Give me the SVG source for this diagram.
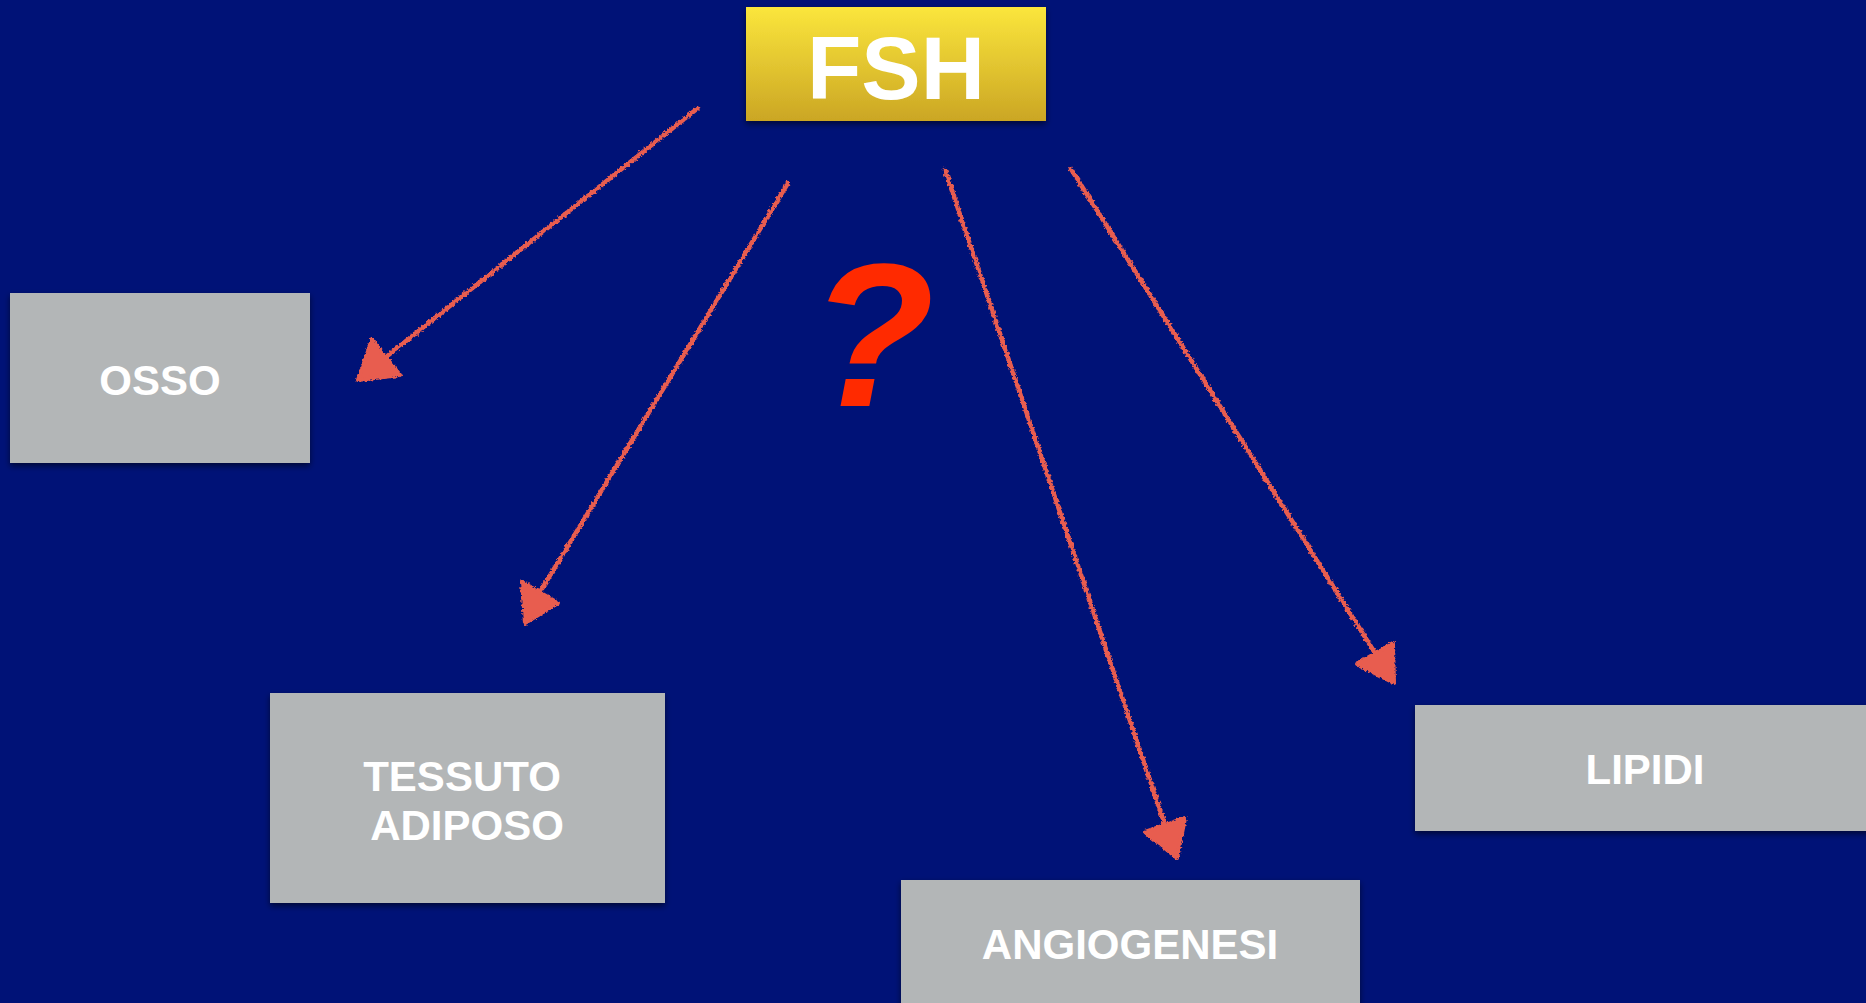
<svg xmlns="http://www.w3.org/2000/svg" width="1866" height="1003" viewBox="0 0 1866 1003">
<defs>
<linearGradient id="gold" x1="0" y1="0" x2="0" y2="1">
<stop offset="0" stop-color="#FBE63C"/>
<stop offset="1" stop-color="#CBA624"/>
</linearGradient>
<filter id="shadow" x="-10%" y="-10%" width="120%" height="130%">
<feDropShadow dx="0" dy="3" stdDeviation="3" flood-color="#000000" flood-opacity="0.55"/>
</filter>
<filter id="rough" filterUnits="userSpaceOnUse" x="0" y="0" width="1866" height="1003">
<feTurbulence type="fractalNoise" baseFrequency="0.4" numOctaves="2" seed="3" result="n"/>
<feDisplacementMap in="SourceGraphic" in2="n" scale="4.5" xChannelSelector="R" yChannelSelector="G"/>
</filter>
<style>
.box{fill:#B3B6B7;filter:url(#shadow)}
.lbl{font-family:"Liberation Sans",Arial,sans-serif;font-weight:bold;font-size:42px;fill:#FFFFFF;text-anchor:middle}
.arr{stroke:#E85D50;stroke-width:4.5;stroke-linecap:round;fill:none}
.head{fill:#E85D50;stroke:#E85D50;stroke-width:4;stroke-linejoin:round}
</style>
</defs>
<rect x="0" y="0" width="1866" height="1003" fill="#001277"/>

<g id="connectors" filter="url(#rough)">
<line class="arr" x1="698" y1="108" x2="386" y2="357"/>
<polygon class="head" points="372,340 400,375 358,380"/>
<line class="arr" x1="788" y1="183" x2="540" y2="592"/>
<polygon class="head" points="522,582 558,603 525,623"/>
<line class="arr" x1="945" y1="170" x2="1165" y2="825"/>
<polygon class="head" points="1145,832 1185,818 1177,858"/>
<line class="arr" x1="1071" y1="169" x2="1375" y2="653"/>
<polygon class="head" points="1357,664 1393,643 1394,683"/>
</g>

<g id="fsh">
<rect x="746" y="7" width="300" height="114" fill="url(#gold)" filter="url(#shadow)"/>
<text x="896" y="99" font-family="Liberation Sans, Arial, sans-serif" font-weight="bold" font-size="89" fill="#FFFFFF" text-anchor="middle">FSH</text>
</g>

<g id="question">
<text x="872" y="406" font-family="Liberation Sans, Arial, sans-serif" font-weight="bold" font-style="italic" font-size="204" fill="#FF2A00" text-anchor="middle">?</text>
</g>

<g id="osso">
<rect class="box" x="10" y="293" width="300" height="170"/>
<text class="lbl" x="160" y="395">OSSO</text>
</g>

<g id="tessuto-adiposo">
<rect class="box" x="270" y="693" width="395" height="210"/>
<text class="lbl" x="462" y="791">TESSUTO</text>
<text class="lbl" x="467" y="840">ADIPOSO</text>
</g>

<g id="angiogenesi">
<rect class="box" x="901" y="880" width="459" height="140"/>
<text class="lbl" x="1130" y="959">ANGIOGENESI</text>
</g>

<g id="lipidi">
<rect class="box" x="1415" y="705" width="470" height="126"/>
<text class="lbl" x="1645" y="784">LIPIDI</text>
</g>
</svg>
